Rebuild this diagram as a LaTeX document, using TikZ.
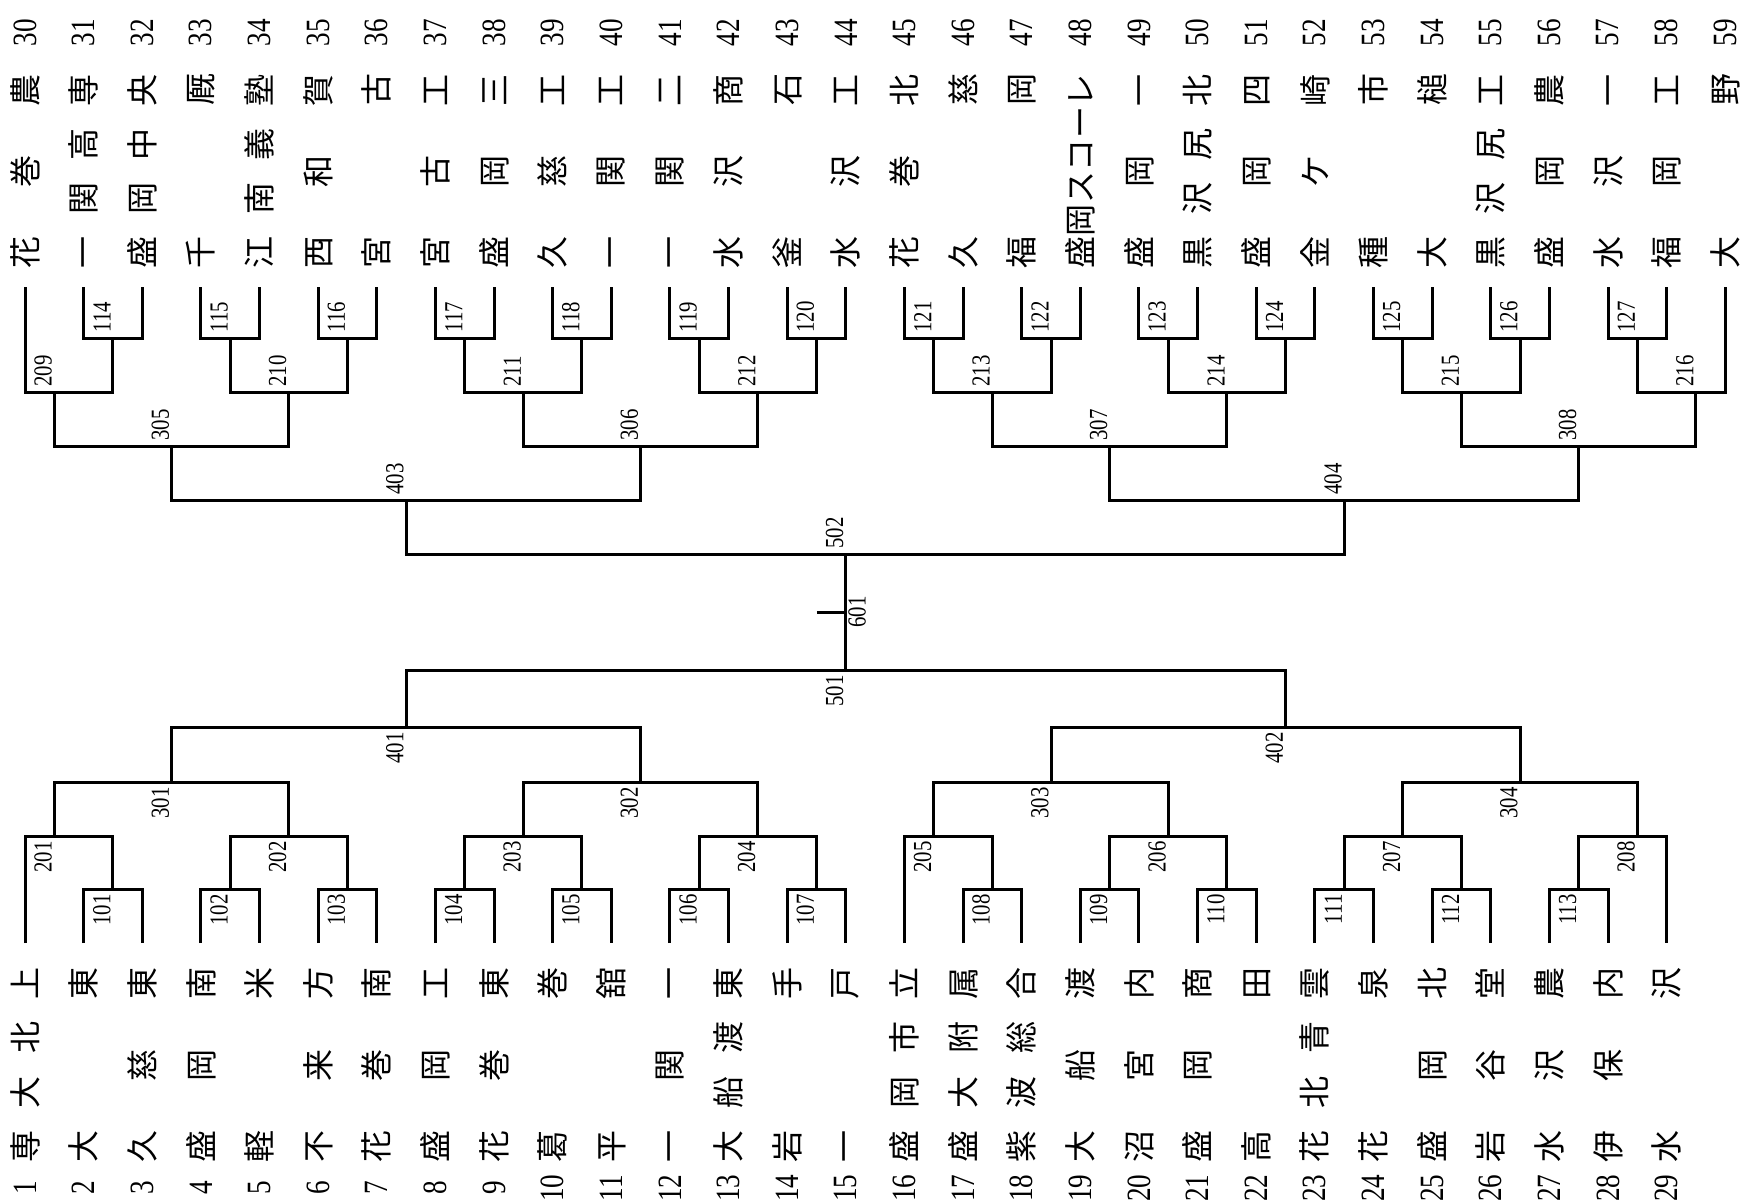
\documentclass[tikz,border=0pt]{standalone}
\usepackage{fontspec}
\usepackage{graphicx}
\newfontfamily\jp{Noto Sans CJK JP}
\newfontfamily\numfont{Liberation Serif}

\newcommand\spreadnext[2]{#1\ifx\relax#2\else\hfill\expandafter\spreadnext\expandafter#2\fi}
\newcommand\spreadit[1]{\expandafter\spreadnext#1\relax}
\newcommand\narrow[1]{\scalebox{0.8}[1]{#1}}

\tikzset{
	bracket/.style = {line width = 1.5pt},
	teamname/.style = {rotate = 90, inner sep = 0pt, font = \jp\fontsize{16}{17}\selectfont},
	teamno/.style = {rotate = 90, inner sep = 0pt, font = \numfont\fontsize{17}{18}\selectfont},
	matchno/.style = {rotate = 90, inner xsep = 2.5pt, inner ysep = 1pt, font = \numfont\fontsize{13}{14}\selectfont}
}

\begin{document}
\begin{tikzpicture}[x = 0.5pt, y = -0.5pt]

	\useasboundingbox (0, 0) rectangle (1747, 1204);

	% Teams, lower row

	\foreach \n/\school [count = \s from 0] in {1/専大北上, 2/大東, 3/久慈東, 4/盛岡南, 5/軽米, 6/不来方, 7/花巻南, 8/盛岡工, 9/花巻東, 10/葛巻, 11/平舘, 12/一関一, 13/大船渡東, 14/岩手, 15/一戸, 16/盛岡市立, 17/盛大附属, 18/紫波総合, 19/大船渡, 20/沼宮内, 21/盛岡商, 22/高田, 23/花北青雲, 24/花泉, 25/盛岡北, 26/岩谷堂, 27/水沢農, 28/伊保内, 29/水沢}
	{
		\node [teamno] (k\n) at ({25 + 58.63 * \s}, 1188) {\narrow{\n}};
		\node [teamname] (n\n) at ({25 + 58.63 * \s}, 1065) {\makebox[97.5pt]{\spreadit{\school}}};
		\coordinate (t\n) at ({25 + 58.63 * \s}, 943);
	}

	% Teams, upper row

	\foreach \n/\school [count = \s from 0] in {30/花巻農, 31/一関高専, 32/盛岡中央, 33/千厩, 34/江南義塾, 35/西和賀, 36/宮古, 37/宮古工, 38/盛岡三, 39/久慈工, 40/一関工, 41/一関二, 42/水沢商, 43/釜石, 44/水沢工, 45/花巻北, 46/久慈, 47/福岡, 48/盛岡スコーレ, 49/盛岡一, 50/黒沢尻北, 51/盛岡四, 52/金ケ崎, 53/種市, 54/大槌, 55/黒沢尻工, 56/盛岡農, 57/水沢一, 58/福岡工, 59/大野}
	{
		\node [teamno] (k\n) at ({25 + 58.63 * \s}, 33) {\narrow{\n}};
		\node [teamname] (n\n) at ({25 + 58.63 * \s}, 171.5) {\makebox[97.5pt]{\spreadit{\school}}};
		\coordinate (t\n) at ({25 + 58.63 * \s}, 287);
	}

	% Lower bracket

	\foreach \m/\s/\y/\a/\b in {101/1.5/889/t2/t3, 102/3.5/889/t4/t5, 103/5.5/889/t6/t7, 104/7.5/889/t8/t9, 105/9.5/889/t10/t11, 106/11.5/889/t12/t13, 107/13.5/889/t14/t15, 108/16.5/889/t17/t18, 109/18.5/889/t19/t20, 110/20.5/889/t21/t22, 111/22.5/889/t23/t24, 112/24.5/889/t25/t26, 113/26.5/889/t27/t28,
		201/0.5/836/t1/m101, 202/4.5/836/m102/m103, 203/8.5/836/m104/m105, 204/12.5/836/m106/m107, 205/15.5/836/t16/m108, 206/19.5/836/m109/m110, 207/23.5/836/m111/m112, 208/27.5/836/m113/t29,
		301/2.5/782/m201/m202, 302/10.5/782/m203/m204, 303/17.5/782/m205/m206, 304/25.5/782/m207/m208,
		401/6.5/727/m301/m302, 402/21.5/727/m303/m304,
		501/14/670/m401/m402}
	{
		\coordinate (m\m) at ({25 + 58.63 * \s}, \y);
		\draw [bracket] (\a) |- (m\m) -| (\b);
		\node [matchno, anchor = south east] (l\m) at (m\m) {\narrow{\m}};
	}

	% Upper bracket

	\foreach \m/\s/\y/\a/\b in {114/1.5/338/t31/t32, 115/3.5/338/t33/t34, 116/5.5/338/t35/t36, 117/7.5/338/t37/t38, 118/9.5/338/t39/t40, 119/11.5/338/t41/t42, 120/13.5/338/t43/t44, 121/15.5/338/t45/t46, 122/17.5/338/t47/t48, 123/19.5/338/t49/t50, 124/21.5/338/t51/t52, 125/23.5/338/t53/t54, 126/25.5/338/t55/t56, 127/27.5/338/t57/t58,
		209/0.5/392/t30/m114, 210/4.5/392/m115/m116, 211/8.5/392/m117/m118, 212/12.5/392/m119/m120, 213/16.5/392/m121/m122, 214/20.5/392/m123/m124, 215/24.5/392/m125/m126, 216/28.5/392/m127/t59,
		305/2.5/446/m209/m210, 306/10.5/446/m211/m212, 307/18.5/446/m213/m214, 308/26.5/446/m215/m216,
		403/6.5/500/m305/m306, 404/22.5/500/m307/m308,
		502/14/554/m403/m404}
	{
		\coordinate (m\m) at ({25 + 58.63 * \s}, \y);
		\draw [bracket] (\a) |- (m\m) -| (\b);
		\node [matchno, anchor = south west] (l\m) at (m\m) {\narrow{\m}};
	}

	% Final

	\coordinate (m601) at ({25 + 58.63 * 14}, 612);
	\coordinate (w) at ({25 + 58.63 * 14 - 29}, 612);
	\draw [bracket] (m501) -- (m502);
	\draw [bracket] (w) -- (m601);
	\node [matchno, anchor = north] (l601) at (m601) {\narrow{601}};

\end{tikzpicture}
\end{document}
